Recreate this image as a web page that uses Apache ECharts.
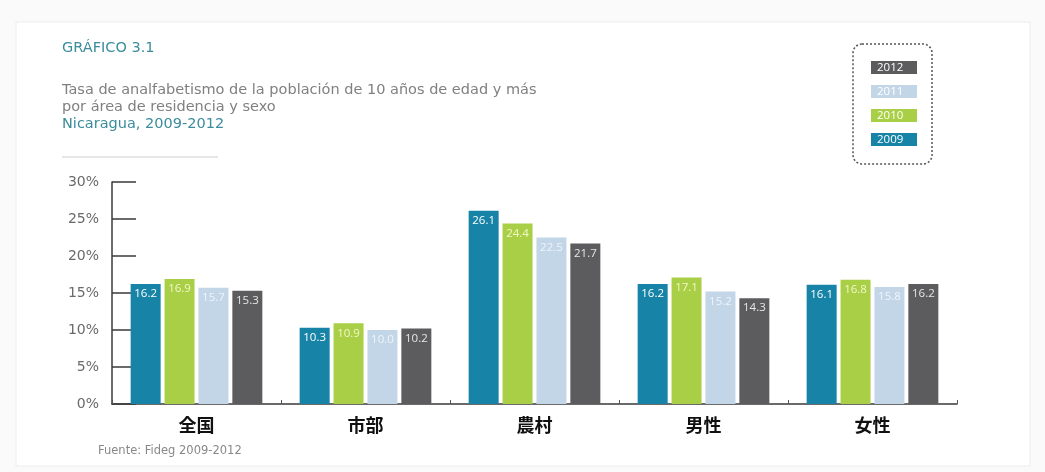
<!DOCTYPE html>
<html>
<head>
<meta charset="utf-8">
<script src="https://cdn.jsdelivr.net/npm/echarts@6/dist/echarts.min.js"></script>
<style>
  html, body { margin: 0; padding: 0; background: #fafafa; }
  #chart { width: 1045px; height: 472px; }
</style>
</head>
<body>
<div id="chart"></div>
<script>
// Illiteracy rate (%), population aged 10+, by area and sex
const categories = ['全国', '市部', '農村', '男性', '女性'];
const years = ['2009', '2010', '2011', '2012'];
const values2009 = [16.2, 10.3, 26.1, 16.2, 16.1];
const values2010 = [16.9, 10.9, 24.4, 17.1, 16.8];
const values2011 = [15.7, 10.0, 22.5, 15.2, 15.8];
const values2012 = [15.3, 10.2, 21.7, 14.3, 16.2];
const yTicks = [0, 5, 10, 15, 20, 25, 30];

const colors = { '2009': '#1783a6', '2010': '#a9cf46', '2011': '#c3d6e8', '2012': '#5c5c5e' };
const labelColors = { '2009': '#ffffff', '2010': '#f3f7c8', '2011': '#eef4fb', '2012': '#e6e6e6' };
const seriesValues = { '2009': values2009, '2010': values2010, '2011': values2011, '2012': values2012 };

const chart = echarts.init(document.getElementById('chart'), null, { renderer: 'canvas' });

const series = years.map(function (y) {
  return {
    name: y,
    type: 'bar',
    data: seriesValues[y],
    barWidth: 30,
    barGap: '13%',
    barCategoryGap: '22%',
    itemStyle: { color: colors[y] },
    label: {
      show: true,
      position: 'insideTop',
      distance: 4,
      color: labelColors[y],
      fontFamily: 'Open Sans',
      fontSize: 11.5,
      formatter: function (p) { return p.value.toFixed(1); }
    }
  };
});

const legendOrder = ['2012', '2011', '2010', '2009'];

chart.setOption({
  backgroundColor: '#fafafa',
  animation: false,
  color: years.map(function (y) { return colors[y]; }),
  grid: { left: 112, right: 88, top: 182, bottom: 68, containLabel: false },
  legend: {
    orient: 'vertical',
    left: 861,
    top: 56,
    itemGap: 11,
    itemWidth: 0,
    itemHeight: 0,
    selectedMode: false,
    data: legendOrder.map(function (y) {
      return { name: y, textStyle: { backgroundColor: colors[y] } };
    }),
    textStyle: {
      color: '#ffffff',
      fontFamily: 'Open Sans',
      fontSize: 11.5,
      width: 34,
      height: 13,
      lineHeight: 13,
      align: 'center',
      padding: [0, 6]
    }
  },
  xAxis: {
    type: 'category',
    data: categories,
    axisLine: { lineStyle: { color: '#3a3a3a', width: 1.5 } },
    axisTick: { show: true, inside: true, length: 4, lineStyle: { color: '#555' } },
    axisLabel: {
      margin: 12,
      color: '#111',
      fontFamily: 'Noto Sans CJK JP',
      fontWeight: 'bold',
      fontSize: 18
    }
  },
  yAxis: {
    type: 'value',
    min: 0,
    max: 30,
    interval: 5,
    axisLine: { show: true, lineStyle: { color: '#3a3a3a', width: 1.5 } },
    axisTick: { show: true, inside: true, length: 24, lineStyle: { color: '#3a3a3a', width: 1.5 } },
    splitLine: { show: false },
    axisLabel: {
      margin: 13,
      color: '#6a6a6a',
      fontFamily: 'DejaVu Sans',
      fontSize: 14,
      formatter: function (v) { return yTicks.indexOf(v) >= 0 ? v + '%' : ''; }
    }
  },
  graphic: [
    {
      type: 'rect',
      silent: true,
      z: -10,
      shape: { x: 16, y: 22, width: 1014, height: 444 },
      style: { fill: '#ffffff', stroke: '#ececec', lineWidth: 1 }
    },
    {
      type: 'text',
      left: 62, top: 41,
      style: { text: 'GRÁFICO 3.1', fill: '#3b8c9c', font: '14.5px "DejaVu Sans"' }
    },
    {
      type: 'text',
      left: 62, top: 82,
      style: {
        text: 'Tasa de analfabetismo de la población de 10 años de edad y más\npor área de residencia y sexo',
        fill: '#808080', font: '14.5px "DejaVu Sans"', lineHeight: 17
      }
    },
    {
      type: 'text',
      left: 62, top: 117,
      style: { text: 'Nicaragua, 2009-2012', fill: '#3b8c9c', font: '14.5px "DejaVu Sans"' }
    },
    {
      type: 'line',
      shape: { x1: 62, y1: 157, x2: 218, y2: 157 },
      style: { stroke: '#cfcfcf', lineWidth: 1 }
    },
    {
      type: 'rect',
      silent: true,
      shape: { x: 853, y: 44, width: 79, height: 120, r: 9 },
      style: { fill: 'none', stroke: '#555', lineWidth: 1.5, lineDash: [2, 2] }
    },
    {
      type: 'text',
      left: 98, top: 445,
      style: { text: 'Fuente: Fideg 2009-2012', fill: '#888', font: '11.5px "DejaVu Sans"' }
    }
  ],
  series: series
});
</script>
</body>
</html>
